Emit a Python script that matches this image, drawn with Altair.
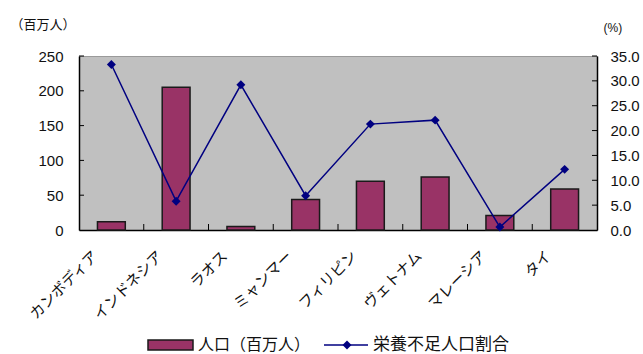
import altair as alt
import pandas as pd

# Countries, population (millions) and undernourished share (%)
countries = ["カンボディア", "インドネシア", "ラオス", "ミャンマー",
             "フィリピン", "ヴェトナム", "マレーシア", "タイ"]
population = [12, 205, 5, 44, 70, 76, 21, 59]
undernourished_pct = [33.3, 5.8, 29.2, 6.9, 21.3, 22.1, 0.6, 12.2]

# Axis tick values
pop_ticks = [0, 50, 100, 150, 200, 250]
pct_ticks = [0, 5, 10, 15, 20, 25, 30, 35]

# Series names for the legend
series_names = ["人口（百万人）", "栄養不足人口割合"]

BAR_COLOR = "#993366"
LINE_COLOR = "#000080"
JP_FONT = "Noto Sans CJK JP"
NUM_FONT = "Liberation Sans"

W, H = 518, 174

df = pd.DataFrame({
    "country": countries,
    "population": population,
    "pct": undernourished_pct,
})

x_axis = alt.Axis(
    title=None, labelAngle=315, labelAlign="right", labelBaseline="middle",
    labelFont=JP_FONT, labelFontSize=15, labelColor="#111",
    labelPadding=23, labelOffset=-16, ticks=False, tickSize=0,
    domainColor="#000", domainWidth=1.5, grid=False,
)
x_enc = alt.X("country:N", sort=countries, title=None, axis=x_axis,
              scale=alt.Scale(paddingInner=0, paddingOuter=0))
x_plain = alt.X("country:N", sort=countries, title=None)

pop_scale = alt.Scale(domain=[0, 250], nice=False)
pct_scale = alt.Scale(domain=[0, 35], nice=False)

base = alt.Chart(df)

bars = base.mark_bar(
    width={"band": 0.43}, fill=BAR_COLOR, stroke="#1a1a1a", strokeWidth=1.5
).encode(
    x=x_enc,
    y=alt.Y("population:Q", scale=pop_scale, axis=alt.Axis(
        orient="left", values=pop_ticks, grid=False, ticks=False, tickSize=0,
        domainColor="#000", domainWidth=1.5,
        labelFont=NUM_FONT, labelFontSize=15, labelColor="#111", labelPadding=16,
        title="（百万人）", titleAngle=0, titleX=-69, titleY=-32,
        titleAlign="left", titleBaseline="middle", titleFont=JP_FONT,
        titleFontSize=13, titleFontWeight="normal", titleColor="#111",
    )),
)

line = base.mark_line(
    color=LINE_COLOR, strokeWidth=1.5,
    point=alt.OverlayMarkDef(shape="diamond", size=80, filled=True,
                             color=LINE_COLOR, opacity=1),
).encode(
    x=x_plain,
    y=alt.Y("pct:Q", scale=pct_scale, axis=alt.Axis(
        orient="right", values=pct_ticks, format=".1f", grid=False,
        ticks=False, tickSize=0, domainColor="#000", domainWidth=1.5,
        labelFont=NUM_FONT, labelFontSize=15, labelColor="#111", labelPadding=13,
        title="(%)", titleAngle=0, titleX=6, titleY=-29,
        titleAlign="left", titleBaseline="middle", titleFont=NUM_FONT,
        titleFontSize=12, titleFontWeight="normal", titleColor="#111",
    )),
)

# Inner tick marks on the three axes
left_ticks = alt.Chart(pd.DataFrame({"v": pop_ticks[1:]})).mark_rule(
    color="#000", strokeWidth=1
).encode(
    y=alt.Y("v:Q", scale=pop_scale, axis=None),
    x=alt.value(0), x2=alt.value(5),
)
right_ticks = alt.Chart(pd.DataFrame({"v": pct_ticks[1:]})).mark_rule(
    color="#000", strokeWidth=1
).encode(
    y=alt.Y("v:Q", scale=pct_scale, axis=None),
    x=alt.value(W - 5), x2=alt.value(W),
)
x_ticks = base.transform_filter(
    alt.datum.country != countries[0]
).mark_rule(color="#000", strokeWidth=1).encode(
    x=alt.X("country:N", sort=countries, title=None, bandPosition=0),
    y=alt.value(H - 6), y2=alt.value(H),
)

# Legend below the chart
LEG_Y = 289
legend_df = pd.DataFrame({"name": series_names})
leg_bar = alt.Chart(legend_df.iloc[[0]]).mark_rect(
    fill=BAR_COLOR, stroke="#1a1a1a", strokeWidth=1.5
).encode(x=alt.value(69), x2=alt.value(114),
         y=alt.value(LEG_Y - 5), y2=alt.value(LEG_Y + 5))
leg_bar_text = alt.Chart(legend_df.iloc[[0]]).mark_text(
    align="left", baseline="middle", font=JP_FONT, fontSize=16, color="#111"
).encode(x=alt.value(119), y=alt.value(LEG_Y), text="name:N")
leg_line = alt.Chart(legend_df.iloc[[1]]).mark_rule(
    color="#4040a0", strokeWidth=2
).encode(x=alt.value(245), x2=alt.value(289), y=alt.value(LEG_Y))
leg_point = alt.Chart(legend_df.iloc[[1]]).mark_point(
    shape="diamond", size=80, filled=True, color=LINE_COLOR, opacity=1
).encode(x=alt.value(268), y=alt.value(LEG_Y))
leg_line_text = alt.Chart(legend_df.iloc[[1]]).mark_text(
    align="left", baseline="middle", font=JP_FONT, fontSize=17, color="#111"
).encode(x=alt.value(294), y=alt.value(LEG_Y), text="name:N")

chart = alt.layer(
    bars, left_ticks, right_ticks, x_ticks, line,
    leg_bar, leg_bar_text, leg_line, leg_point, leg_line_text,
).resolve_scale(
    y="independent"
).properties(
    width=W, height=H,
    autosize=alt.AutoSizeParams(type="none"),
    padding={"left": 79, "top": 56, "right": 46, "bottom": 124},
    background="white",
).configure_view(
    fill="#C0C0C0", stroke="#9a9a9a", strokeWidth=1
)

chart.save("out.html", embed_options={"renderer": "svg", "actions": False})
